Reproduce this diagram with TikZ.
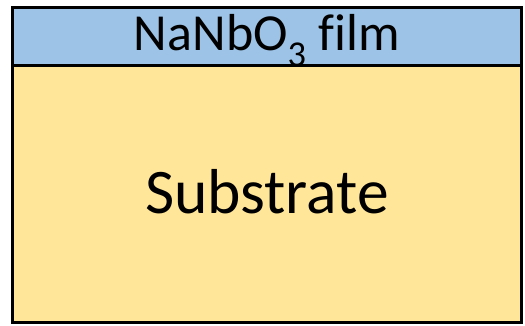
\documentclass[tikz,border=0pt]{standalone}
\usepackage{fontspec}
\setmainfont[Ligatures=CommonOff]{Carlito}
\definecolor{filmblue}{RGB}{157,195,230}
\definecolor{subyellow}{RGB}{255,230,153}
\begin{document}
\begin{tikzpicture}[x=1pt,y=-1pt,
  layer/.style={draw=black,line width=3pt},
  label/.style={inner sep=0pt,anchor=base}]
\useasboundingbox (0,0) rectangle (525,326);
% substrate block and film layer
\path[layer,fill=subyellow] (12.5,66) rectangle (521,322);
\path[layer,fill=filmblue] (12.5,8) rectangle (521,66);
\coordinate (filmc) at (266.8,51);
\coordinate (subc) at (267,213);
\node[label,font=\fontsize{52}{60}\selectfont] (film) at (filmc) {NaNbO\textsubscript{3} film};
\node[label,font=\fontsize{63.5}{70}\selectfont] (sub) at (subc) {Substrate};
\end{tikzpicture}
\end{document}
